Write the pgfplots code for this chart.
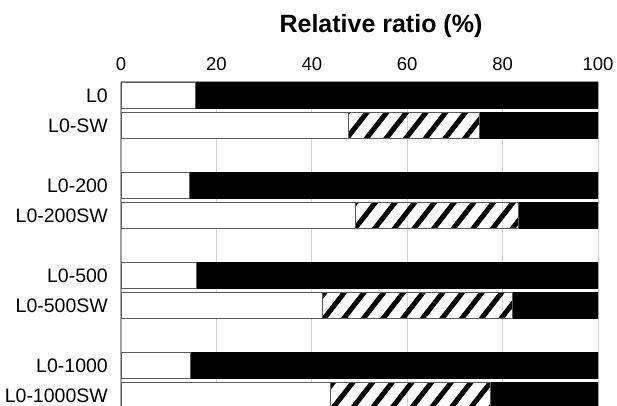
\documentclass[border=0pt]{standalone}
\usepackage{fontspec}
\setmainfont{Liberation Sans}
\usepackage{pgfplots}
\pgfplotsset{compat=1.18}
\usetikzlibrary{patterns.meta,calc}
\definecolor{gridgray}{RGB}{210,210,210}
\definecolor{axgray}{RGB}{160,160,160}
\definecolor{edgegray}{RGB}{90,90,90}
\begin{document}
\begin{tikzpicture}
\begin{axis}[name=ax, scale only axis, width=477bp, height=324bp,
  xbar stacked, bar width=0.87,
  xmin=0, xmax=100, ymin=-10.35, ymax=0.45,
  xtick={0,20,...,100}, ytick={0,-1,-3,-4,-6,-7,-9,-10},
  yticklabels={L0,L0-SW,L0-200,L0-200SW,L0-500,L0-500SW,L0-1000,L0-1000SW},
  axis x line*=top, axis y line*=left,
  axis line style={draw=axgray, line width=1.6bp},
  xmajorgrids, grid style={draw=gridgray, line width=0.8bp},
  major tick length=0pt,
  /pgf/number format/assume math mode=true,
  x tick label style={font=\fontsize{18.5bp}{21bp}\selectfont, inner sep=0pt, yshift=11bp},
  y tick label style={font=\fontsize{19.5bp}{22bp}\selectfont, inner sep=0pt, xshift=-13bp},
]
\addplot[fill=white, draw=edgegray, line width=0.8bp] coordinates {
  (15.5,0) (47.6,-1) (14.3,-3) (49.1,-4) (15.8,-6) (42.2,-7) (14.6,-9) (43.8,-10)};
\addplot[pattern={Lines[angle=52, distance=15.5bp, line width=5bp]}, pattern color=black, draw=edgegray, line width=0.6bp] coordinates {
  (0,0) (27.5,-1) (0,-3) (34.2,-4) (0,-6) (39.8,-7) (0,-9) (33.6,-10)};
\addplot[fill=black, draw=black, line width=0.6bp] coordinates {
  (84.5,0) (24.9,-1) (85.7,-3) (16.7,-4) (84.2,-6) (18.0,-7) (85.4,-9) (22.6,-10)};
\end{axis}
\node[anchor=base, inner sep=0pt, font=\bfseries\fontsize{25bp}{29bp}\selectfont]
  at ($(ax.north west)!0.545!(ax.north east)+(0,49bp)$) {Relative ratio (\%)};
\pgfresetboundingbox
\path[use as bounding box] ($(ax.south west)+(-121bp,0)$) rectangle ($(ax.north east)+(19bp,82bp)$);
\end{tikzpicture}
\end{document}
